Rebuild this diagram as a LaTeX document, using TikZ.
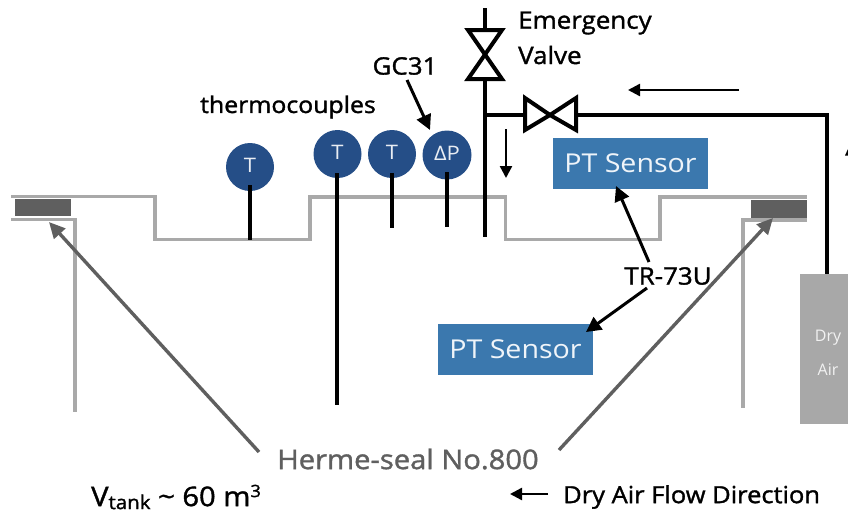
\documentclass[tikz,border=0pt]{standalone}
\usepackage{fontspec}
\setmainfont{Open Sans}
\newfontfamily\lblfont[FakeStretch=1.08,FakeBold=1.4]{Open Sans}
\newfontfamily\ptfont[FakeStretch=1.1]{Open Sans}
\definecolor{wall}{HTML}{A9A9A9}
\definecolor{sealc}{HTML}{5F5F5F}
\definecolor{tc}{HTML}{254E87}
\definecolor{pt}{HTML}{3B78AE}
\definecolor{airc}{HTML}{A8A8A8}
\usetikzlibrary{arrows.meta}
\tikzset{
  x=1pt,y=-1pt,
  wallline/.style={draw=wall,line width=3.4pt,line cap=butt,line join=miter},
  sealbox/.style={fill=sealc,draw=none},
  tcnode/.style={circle,fill=tc,draw=none,minimum size=48pt,inner sep=0pt,text=white!90!tc,font=\ptfont\fontsize{20}{22}\selectfont},
  ptnode/.style={rectangle,fill=pt,draw=none,minimum width=155pt,minimum height=51pt,inner sep=0pt,text=white!92!pt,font=\ptfont\fontsize{26}{28}\selectfont},
  stem/.style={draw=black,line width=4pt},
  pipe/.style={draw=black,line width=4pt,line join=miter},
  valvetri/.style={draw=black,fill=white,line width=4pt,line join=miter},
  lbl/.style={inner sep=0pt,text=black,font=\lblfont\fontsize{23}{25}\selectfont},
  lblb/.style={inner sep=0pt,text=black,font=\lblfont\fontsize{24}{26}\selectfont},
  blkarrow/.style={draw=black,line width=3pt,-{Triangle[length=15pt,width=15pt]}},
  flowarrow/.style={draw=black,line width=2.4pt,-{Triangle[length=12pt,width=12pt]}},
  grayarrow/.style={draw=sealc,line width=3.4pt,-{Triangle[length=16pt,width=15pt]}},
}
\begin{document}
\begin{tikzpicture}
\useasboundingbox (0,0) rectangle (848,514);
\clip (0,0) rectangle (848,514);
% tank walls
\draw[wallline] (11,196.5) -- (155,196.5) -- (155,239.5) -- (310,239.5) -- (310,197) -- (505.5,197) -- (505.5,239.5) -- (660,239.5) -- (660,197) -- (807,197);
\draw[wallline] (11,219.5) -- (75,219.5) -- (75,412);
\draw[wallline] (807,220) -- (743,220) -- (743,408);
% seals
\node[sealbox,minimum width=56pt,minimum height=17.5pt,inner sep=0pt] (sealL) at (43,207.5) {};
\node[sealbox,minimum width=56pt,minimum height=18pt,inner sep=0pt] (sealR) at (779,208.5) {};
% thermocouples
\node[tcnode] (t1) at (250,167) {\raisebox{4pt}{T}};
\node[tcnode] (t2) at (337.5,154) {\raisebox{4pt}{T}};
\node[tcnode] (t3) at (392,154) {\raisebox{4pt}{T}};
\node[tcnode,minimum size=49pt] (dp) at (447,155) {\raisebox{4pt}{ΔP}};
\coordinate (t1e) at (249.5,240);
\coordinate (t2e) at (337,405);
\coordinate (t3e) at (392,228);
\coordinate (dpe) at (447,227);
\draw[stem] (249.5,185) -- (t1e);
\draw[stem] (337,173) -- (t2e);
\draw[stem] (392,173) -- (t3e);
\draw[stem] (447,172) -- (dpe);
% dry air
\node[rectangle,fill=airc,draw=none,minimum width=48pt,minimum height=150pt,inner sep=0pt,anchor=north west] (air) at (800,274) {};
\node[inner sep=0pt,text=white!85!airc,font=\fontsize{16}{18}\selectfont] (airA) at (828,338) {Dry};
\node[inner sep=0pt,text=white!85!airc,font=\fontsize{16}{18}\selectfont] (airB) at (828,370) {Air};
% pipes
\coordinate (ptop) at (484.5,8);
\coordinate (pbot) at (484.5,237);
\coordinate (pj) at (484.5,115);
\coordinate (pc) at (827,115);
\coordinate (paire) at (827,274);
\draw[pipe] (ptop) -- (pbot);
\draw[pipe] (pj) -- (pc) -- (paire);
% valves
\coordinate (vv) at (485,54.5);
\coordinate (hv) at (550,115);
\draw[valvetri] (468,30) -- (502,30) -- (vv) -- cycle;
\draw[valvetri] (468,79) -- (502,79) -- (vv) -- cycle;
\draw[valvetri] (525,98) -- (525,130) -- (hv) -- cycle;
\draw[valvetri] (576,98) -- (576,130) -- (hv) -- cycle;
% sensors
\node[ptnode] (pt1) at (630.5,163.5) {PT Sensor};
\node[ptnode] (pt2) at (515.5,349.5) {PT Sensor};
% labels
\node[lblb,anchor=west] (ev1) at (518,23) {Emergency};
\node[lblb,anchor=west] (ev2) at (518,55) {Valve};
\node[lblb] (gc) at (405,66) {GC31};
\node[lbl] (thermo) at (288,107) {thermocouples};
\node[lblb] (tr) at (668,276) {TR-73U};
\node[inner sep=0pt,text=sealc,font=\lblfont\fontsize{27}{30}\selectfont] (herme) at (408,459) {Herme-seal No.800};
\node[lbl,anchor=west,font=\lblfont\fontsize{27}{28}\selectfont] (vt) at (91,497) {V\raisebox{-3pt}{\fontsize{19}{20}\selectfont tank} \textasciitilde{} 60 m\raisebox{9pt}{\fontsize{17}{18}\selectfont 3}};
\node[lbl,anchor=west,font=\lblfont\fontsize{23.6}{25}\selectfont] (flow) at (563,497) {Dry Air Flow Direction};
% arrows
\coordinate (fa1) at (739,90); \coordinate (fa2) at (628,90);
\coordinate (fb1) at (506,129); \coordinate (fb2) at (506,178);
\coordinate (fc1) at (548,494); \coordinate (fc2) at (510,494);
\draw[flowarrow] (fa1) -- (fa2);
\draw[flowarrow] (fb1) -- (fb2);
\draw[flowarrow] (fc1) -- (fc2);
\coordinate (ga1) at (407,80); \coordinate (ga2) at (430,130);
\draw[blkarrow] (ga1) -- (ga2);
\coordinate (tra1) at (649,262); \coordinate (tra2) at (616,186);
\coordinate (trb1) at (647,288); \coordinate (trb2) at (586,332);
\draw[blkarrow] (tra1) -- (tra2);
\draw[blkarrow] (trb1) -- (trb2);
\coordinate (ha1) at (259,452); \coordinate (ha2) at (49,222);
\coordinate (hb1) at (559,450); \coordinate (hb2) at (773,218);
\draw[grayarrow] (ha1) -- (ha2);
\draw[grayarrow] (hb1) -- (hb2);
% clipped arrowhead at the right edge
\fill[black] (845,155.5) -- (848,149) -- (848,155.5) -- cycle;
\end{tikzpicture}
\end{document}
